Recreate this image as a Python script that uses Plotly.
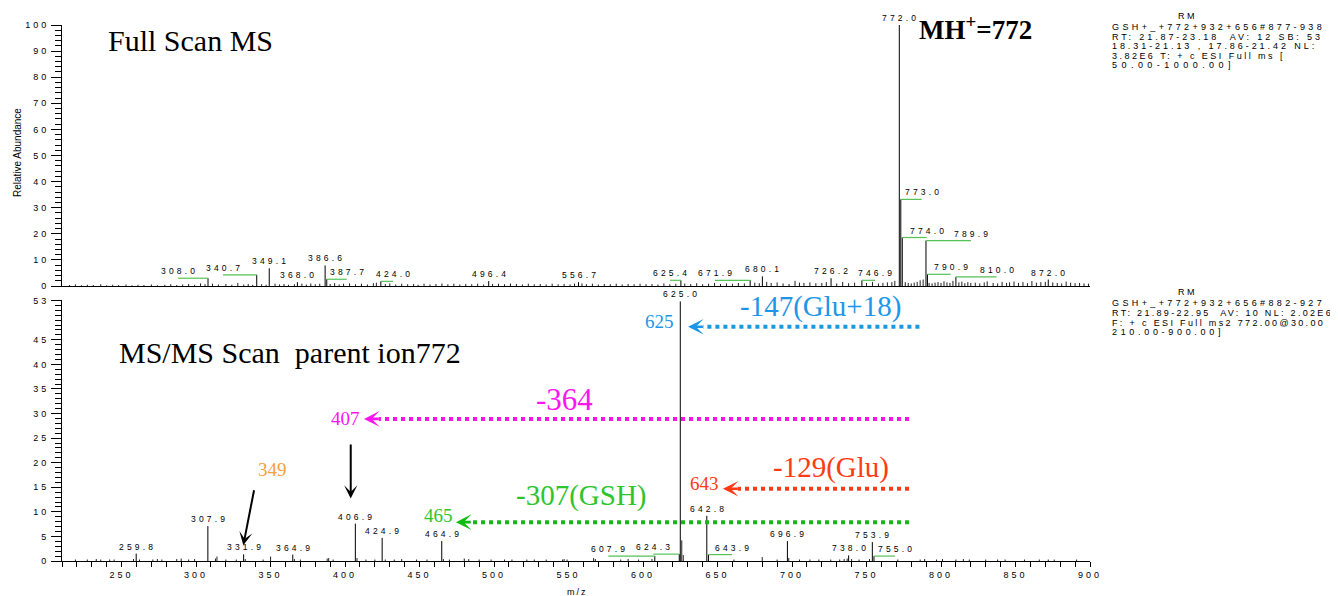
import plotly.graph_objects as go

# ---------------- data ----------------
# Full scan MS: labelled peaks
fs_labels = ["308.0", "340.7", "349.1", "368.0", "386.6", "387.7", "424.0", "496.4",
             "556.7", "625.4", "671.9", "680.1", "726.2", "746.9", "772.0", "773.0",
             "774.0", "789.9", "790.9", "810.0", "872.0"]
fs_mz = [308.0, 340.7, 349.1, 368.0, 386.6, 387.7, 424.0, 496.4, 556.7, 625.4, 671.9,
         680.1, 726.2, 746.9, 772.0, 773.0, 774.0, 789.9, 790.9, 810.0, 872.0]
fs_int = [3.0, 4.3, 6.8, 1.5, 7.9, 2.6, 1.8, 1.9, 1.5, 2.2, 2.2, 3.7, 3.0, 2.2, 100.0,
          33.2, 18.6, 17.4, 4.5, 3.5, 2.5]
# where the (displaced) label text sits on the m/z axis
fs_label_mz = [287.9, 318.1, 349.1, 367.5, 386.6, 401.1, 432.2, 496.4, 556.7, 618.1, 648.3,
               680.1, 726.2, 755.7, 772.0, 787.0, 790.3, 820.1, 806.5, 837.3, 872.0]
# Full scan MS: unlabelled minor peaks (read approximately)
fs_minor_mz = [215, 219, 223, 227, 231, 236, 240, 244, 248, 253, 257, 261, 265, 270, 274, 279,
               283, 287, 291, 295, 299, 303, 306, 311, 315, 320, 324, 328, 332, 335, 338, 344,
               347, 353, 356, 359, 362, 366, 371, 374, 377, 380, 383, 390, 393, 396, 399, 403,
               407, 411, 415, 419, 421, 427, 430, 434, 438, 442, 446, 449, 453, 457, 461, 465,
               469, 473, 477, 481, 485, 489, 493, 499, 503, 507, 511, 515, 519, 523, 527, 531,
               535, 539, 543, 547, 551, 554, 559, 562, 566, 570, 574, 578, 582, 586, 590, 594,
               598, 602, 606, 610, 614, 618, 622, 628, 632, 636, 640, 644, 648, 652, 656, 660,
               664, 668, 675, 678, 683, 686, 690, 694, 698, 702, 705, 708, 712, 716, 720, 723,
               730, 734, 738, 742, 750, 754, 758, 761, 764, 767, 769, 776, 778, 780, 782, 784,
               786, 788, 792, 794, 796, 798, 800, 802, 804, 806, 808, 812, 814, 816, 818, 820,
               823, 826, 829, 831, 835, 838, 841, 844, 846, 849, 852, 855, 858, 861, 864, 867,
               870, 875, 878, 881, 884, 887, 890, 893, 896, 899]
fs_minor_int = [0.4, 0.6, 0.3, 0.5, 0.4, 0.7, 0.3, 0.5, 0.4, 0.6, 0.3, 0.5, 0.4, 0.6, 0.3, 0.5,
                0.7, 0.4, 0.6, 0.8, 0.5, 1.0, 0.7, 0.9, 0.6, 0.8, 0.5, 1.2, 0.6, 0.8, 0.5, 0.7,
                0.5, 0.9, 0.6, 0.8, 0.5, 0.7, 0.9, 0.6, 1.0, 0.7, 0.9, 0.8, 1.1, 0.6, 0.9, 1.0,
                0.7, 0.9, 0.6, 1.1, 1.3, 0.8, 1.0, 0.6, 0.9, 0.7, 0.8, 0.5, 0.9, 0.6, 0.8, 1.0,
                0.7, 0.9, 0.6, 0.8, 0.7, 0.9, 0.6, 0.8, 0.9, 0.7, 1.0, 0.8, 0.6, 0.9, 0.7, 0.8,
                0.6, 0.9, 0.7, 0.8, 0.6, 0.9, 1.0, 0.7, 0.9, 0.6, 0.8, 0.7, 0.9, 0.6, 0.8, 0.7,
                0.9, 0.7, 0.8, 0.6, 1.0, 0.7, 0.9, 1.0, 0.8, 1.1, 0.7, 0.9, 1.2, 0.8, 1.0, 0.9,
                1.2, 1.0, 1.3, 1.1, 1.6, 1.2, 1.4, 1.0, 0.8, 2.0, 1.3, 1.2, 1.4, 1.1, 1.2, 1.5,
                1.0, 1.6, 1.1, 1.3, 1.2, 1.6, 1.0, 1.2, 1.4, 1.5, 2.0, 1.5, 1.2, 1.0, 1.3, 1.6,
                2.2, 2.5, 1.2, 1.0, 1.3, 1.5, 1.2, 1.8, 1.4, 1.2, 2.0, 1.4, 1.7, 1.1, 1.5, 1.2,
                1.3, 1.0, 1.4, 1.8, 1.2, 1.0, 1.6, 1.2, 1.4, 1.7, 1.2, 1.5, 1.1, 1.9, 1.3, 1.5,
                1.6, 1.4, 1.2, 1.0, 1.7, 1.3, 1.1, 1.2, 1.0, 0.9]

# MS/MS scan (parent 772): labelled peaks
ms_labels = ["259.8", "307.9", "331.9", "364.9", "406.9", "424.9", "464.9", "607.9", "624.3",
             "625.0", "642.8", "643.9", "696.9", "738.0", "753.9", "755.0"]
ms_mz = [259.8, 307.9, 331.9, 364.9, 406.9, 424.9, 464.9, 607.9, 624.3, 625.0, 642.8, 643.9,
         696.9, 738.0, 753.9, 755.0]
ms_int = [1.5, 7.1, 1.35, 1.3, 7.6, 4.7, 4.05, 1.0, 1.4, 52.8, 9.2, 1.3, 4.05, 1.15, 3.85, 1.0]
ms_label_mz = [259.8, 307.9, 331.9, 364.9, 406.9, 424.9, 464.9, 576.7, 606.9, 625.0, 642.8,
               659.7, 696.9, 738.0, 753.9, 769.1]
# MS/MS: unlabelled minor peaks
ms_minor_mz = [219, 227, 233, 236, 242, 245, 258, 262, 271, 274, 277, 287, 290, 295, 299, 313,
               314, 320, 327, 333, 345, 350, 366, 370, 388, 389, 392, 408, 414, 420, 427, 433,
               438, 448, 455, 466, 470, 480, 483, 490, 498, 507, 512, 522, 527, 535, 546, 547,
               549, 566.8, 568, 585, 590, 597, 606, 626, 627, 661, 680, 690, 697.8, 705, 712,
               718, 726, 732, 735, 737, 740, 745, 752, 771, 786, 789, 797, 801, 810, 815, 819,
               830, 838, 843, 856, 866, 872, 876, 891]
ms_minor_int = [0.3, 0.3, 0.4, 0.3, 0.3, 0.3, 0.4, 0.3, 0.3, 0.4, 0.3, 0.4, 0.5, 0.3, 0.4, 0.5,
                0.9, 0.3, 0.3, 0.4, 0.3, 0.9, 0.4, 0.3, 0.5, 0.6, 0.3, 0.6, 0.3, 0.3, 0.3, 0.3,
                0.4, 0.3, 0.3, 0.4, 0.3, 0.5, 0.4, 0.3, 0.3, 0.3, 0.3, 0.3, 0.3, 0.3, 0.3, 0.4,
                0.3, 0.6, 0.4, 0.3, 0.4, 0.3, 0.4, 4.2, 1.2, 0.3, 0.8, 0.3, 0.6, 0.3, 0.3, 0.3,
                0.3, 0.3, 0.4, 0.5, 0.4, 0.3, 0.4, 0.3, 0.3, 0.4, 0.3, 0.4, 0.3, 0.4, 0.3, 0.3,
                0.3, 0.3, 0.3, 0.3, 0.3, 0.3, 0.3]

x_ticks = [250, 300, 350, 400, 450, 500, 550, 600, 650, 700, 750, 800, 850, 900]
fs_yticks = [0, 10, 20, 30, 40, 50, 60, 70, 80, 90, 100]
ms_yticks = [0, 5, 10, 15, 20, 25, 30, 35, 40, 45, 53]

# neutral-loss annotations (label, fragment, colour)
loss_text = ["-147(Glu+18)", "-364", "-129(Glu)", "-307(GSH)"]
loss_frag = ["625", "407", "643", "465"]
loss_color = ["#1E96E8", "#FF14F0", "#FF3A14", "#2EC42E"]
loss_line_color = ["#1E96E8", "#FF14F0", "#FF3A14", "#11BB11"]

info_top = ["GSH+_+772+932+656#877-938", "RT: 21.87-23.18  AV: 12 SB: 53",
            "18.31-21.13 , 17.86-21.42 NL:", "3.82E6 T: + c ESI Full ms [", "50.00-1000.00]"]
info_bot = ["GSH+_+772+932+656#882-927", "RT: 21.89-22.95  AV: 10 NL: 2.02E6",
            "F: + c ESI Full ms2 772.00@30.00 [", "210.00-900.00]"]

# ---------------- layout helpers ----------------
SANS = "Liberation Sans, Arial, sans-serif"
SERIF = "Liberation Serif, Times New Roman, serif"
OFF = 8                      # page body margin of the html page
W, H = 1338 - OFF, 596 - OFF
L, T = 62 - OFF, 21 - OFF
R = W - (1090 - OFF)
B = H - (561 - OFF)
PW, PH = W - L - R, H - T - B

ARIAL_W = {".": .278, ",": .278, ":": .278, " ": .278, "\u00a0": .278, "-": .333, "+": .584,
           "_": .556, "#": .556, "R": .722, "T": .611, "A": .667, "V": .667, "S": .667,
           "B": .667, "N": .722, "L": .556, "E": .667, "I": .278, "F": .611, "u": .556,
           "l": .222, "m": .833, "s": .5, "c": .5, "[": .278, "]": .278, "@": 1.015,
           "G": .778, "H": .722, "M": .833}


def sp(text, px=3.0):
    return '<span style="letter-spacing:%spx">%s</span>' % (px, text.replace(" ", "\u00a0"))


def sp_fit(text, target, size):
    nat = sum(ARIAL_W.get(c, .556) for c in text) * size
    return sp(text, round(max(0.5, (target - nat) / len(text)), 2))


def px_x(px):
    return (px - OFF - L) / PW


def px_y(py):
    return (H - B - (py - OFF)) / PH


def sticks(mz, inten):
    xs, ys = [], []
    for m, v in zip(mz, inten):
        xs += [m, m, None]
        ys += [0, v, None]
    return xs, ys


fig = go.Figure()

# sticks
for mz, it, xa, ya, col in [(fs_minor_mz, fs_minor_int, "x2", "y2", "#222"),
                            (fs_mz, fs_int, "x2", "y2", "black"),
                            (ms_minor_mz, ms_minor_int, "x", "y", "#222"),
                            (ms_mz, ms_int, "x", "y", "black")]:
    xs, ys = sticks(mz, it)
    fig.add_trace(go.Scatter(x=xs, y=ys, mode="lines", xaxis=xa, yaxis=ya,
                             line=dict(color=col, width=1), hoverinfo="skip", showlegend=False))

# green connectors for displaced labels
for mz, it, lm, xa, ya in [(fs_mz, fs_int, fs_label_mz, "x2", "y2"),
                           (ms_mz, ms_int, ms_label_mz, "x", "y")]:
    xs, ys = [], []
    for m, v, l in zip(mz, it, lm):
        if abs(l - m) > 1.0:
            xs += [m, l, None]
            ys += [v, v, None]
    fig.add_trace(go.Scatter(x=xs, y=ys, mode="lines", xaxis=xa, yaxis=ya,
                             line=dict(color="#55C255", width=1.2), hoverinfo="skip",
                             showlegend=False))

annotations = []
# peak labels
for labs, mz, it, lm, xr, yr in [(fs_labels, fs_mz, fs_int, fs_label_mz, "x2", "y2"),
                                 (ms_labels, ms_mz, ms_int, ms_label_mz, "x", "y")]:
    for t, m, v, l in zip(labs, mz, it, lm):
        annotations.append(dict(x=l, y=v, xref=xr, yref=yr, text=sp(t, 3.2), showarrow=False,
                                xanchor="center", yanchor="bottom", xshift=1.5, yshift=0,
                                font=dict(family=SANS, size=8.5, color="black")))

# neutral loss arrows (bottom panel coordinates)
arrow_y = [47.65, 28.9, 14.7, 7.9]
arrow_start = [785.5, 778.5, 778.5, 778.5]
arrow_tip = [630.2, 412.7, 653.6, 474.4]
frag_pos = [(611.0, 48.8), (400.0, 28.9), (641.0, 15.8), (462.4, 9.2)]
text_pos = [(718.8, 51.8), (547.6, 32.8), (726.2, 19.0), (559.0, 13.4)]
text_size = [29, 31, 29, 29]
for i in range(4):
    fig.add_trace(go.Scatter(x=[arrow_start[i], arrow_tip[i] + 10], y=[arrow_y[i], arrow_y[i]],
                             mode="lines", xaxis="x", yaxis="y",
                             line=dict(color=loss_line_color[i], width=4, dash="dot"),
                             hoverinfo="skip", showlegend=False))
    annotations.append(dict(x=arrow_tip[i], y=arrow_y[i], ax=arrow_tip[i] + 11, ay=arrow_y[i],
                            xref="x", yref="y", axref="x", ayref="y", text="", showarrow=True,
                            arrowhead=3, arrowsize=1.0, arrowwidth=2.6,
                            arrowcolor=loss_line_color[i]))
    annotations.append(dict(x=frag_pos[i][0], y=frag_pos[i][1], xref="x", yref="y",
                            text=loss_frag[i], showarrow=False, xanchor="center",
                            yanchor="middle",
                            font=dict(family=SERIF, size=19, color=loss_color[i])))
    annotations.append(dict(x=text_pos[i][0], y=text_pos[i][1], xref="x", yref="y",
                            text=loss_text[i], showarrow=False, xanchor="center",
                            yanchor="middle",
                            font=dict(family=SERIF, size=text_size[i], color=loss_color[i])))

# black arrows
annotations.append(dict(x=331.7, y=3.2, ax=339.1, ay=14.7, xref="x", yref="y", axref="x",
                        ayref="y", text="", showarrow=True, arrowhead=3, arrowsize=1.1,
                        arrowwidth=2, arrowcolor="black"))
annotations.append(dict(x=403.8, y=12.7, ax=403.8, ay=24.0, xref="x", yref="y", axref="x",
                        ayref="y", text="", showarrow=True, arrowhead=3, arrowsize=1.1,
                        arrowwidth=2, arrowcolor="black"))
annotations.append(dict(x=px_x(272), y=px_y(469), xref="paper", yref="paper", text="349",
                        showarrow=False, xanchor="center", yanchor="middle",
                        font=dict(family=SERIF, size=19, color="#F7A040")))

# titles
annotations.append(dict(x=px_x(106), y=px_y(37), xref="paper", yref="paper",
                        text="Full Scan MS", showarrow=False, xanchor="left",
                        yanchor="middle", font=dict(family=SERIF, size=30, color="black")))
annotations.append(dict(x=px_x(117), y=px_y(351), xref="paper", yref="paper",
                        text="MS/MS Scan\u00a0\u00a0parent ion772", showarrow=False,
                        xanchor="left", yanchor="middle",
                        font=dict(family=SERIF, size=30, color="black")))
annotations.append(dict(x=px_x(917), y=px_y(24), xref="paper", yref="paper",
                        text="<b>MH<sup>+</sup>=772</b>", showarrow=False, xanchor="left",
                        yanchor="middle", font=dict(family=SERIF, size=27, color="black")))

# axis titles
annotations.append(dict(x=px_x(17), y=px_y(150), xref="paper", yref="paper",
                        text="Relative Abundance", textangle=-90, showarrow=False,
                        xanchor="center", yanchor="middle",
                        font=dict(family=SANS, size=10, color="black")))
annotations.append(dict(x=px_x(577), y=px_y(592), xref="paper", yref="paper",
                        text=sp("m/z", 2), showarrow=False, xanchor="center",
                        yanchor="middle", font=dict(family=SANS, size=9, color="black")))

# instrument info
info_blocks = [(12, [23, 33, 42.5, 52, 61.5], info_top, [213, 213, 205, 174, 123]),
               (290, [301.3, 311.3, 321.3, 330.7], info_bot, [213, 223, 223, 112])]
for rm_y, line_y, lines, widths in info_blocks:
    annotations.append(dict(x=px_x(1187), y=px_y(rm_y), xref="paper", yref="paper",
                            text=sp("RM", 2.6), showarrow=False, xanchor="center",
                            yanchor="middle", font=dict(family=SANS, size=9, color="black")))
    for ln, yy, wd in zip(lines, line_y, widths):
        annotations.append(dict(x=px_x(1110), y=px_y(yy), xref="paper", yref="paper",
                                text=sp_fit(ln, wd, 9), showarrow=False, xanchor="left",
                                yanchor="middle",
                                font=dict(family=SANS, size=9, color="black")))

top_dom = [(H - B - (284 - OFF)) / PH, 1.0]
bot_dom = [0.0, (H - B - (298.5 - OFF)) / PH]

axis_common = dict(showgrid=False, zeroline=False, showline=True, linecolor="black",
                   linewidth=1, ticks="outside", tickcolor="black",
                   tickfont=dict(family=SANS, size=9, color="black"))

fig.update_layout(
    width=W, height=H, margin=dict(l=L, r=R, t=T, b=B),
    paper_bgcolor="white", plot_bgcolor="white", showlegend=False,
    annotations=annotations,
    xaxis=dict(range=[210, 900], anchor="y", tickmode="array", tickvals=x_ticks,
               ticktext=[sp(str(v), 3) for v in x_ticks], ticklen=5,
               minor=dict(dtick=10, tick0=0, ticks="outside", ticklen=5, tickcolor="black"),
               **axis_common),
    xaxis2=dict(range=[210, 900], anchor="y2", matches="x", showgrid=False, zeroline=False,
                showline=True, linecolor="black", linewidth=1, ticks="", showticklabels=False),
    yaxis=dict(domain=bot_dom, range=[0, 53], anchor="x", tickmode="array", tickvals=ms_yticks,
               ticktext=[sp(str(v), 3) for v in ms_yticks], ticklen=10,
               minor=dict(dtick=1, tick0=0, ticks="outside", ticklen=6, tickcolor="black"),
               **axis_common),
    yaxis2=dict(domain=top_dom, range=[0, 100], anchor="x2", tickmode="array",
                tickvals=fs_yticks, ticktext=[sp(str(v), 3) for v in fs_yticks], ticklen=10,
                minor=dict(dtick=2, tick0=0, ticks="outside", ticklen=6, tickcolor="black"),
                **axis_common),
)

fig.write_html("out.html")
